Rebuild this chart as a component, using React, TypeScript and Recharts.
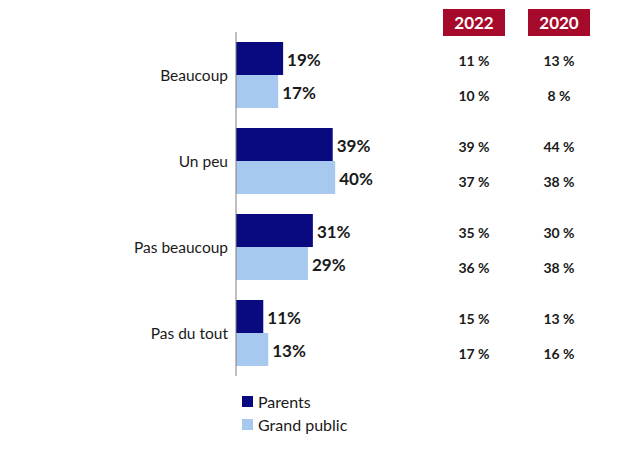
import React from "react";
import { BarChart, Bar, XAxis, YAxis, Legend, LabelList } from "recharts";

const categories = ["Beaucoup", "Un peu", "Pas beaucoup", "Pas du tout"];
const parents = [19, 39, 31, 11];
const grandPublic = [17, 40, 29, 13];
const parents2022 = ["11 %", "39 %", "35 %", "15 %"];
const parents2020 = ["13 %", "44 %", "30 %", "13 %"];
const public2022 = ["10 %", "37 %", "36 %", "17 %"];
const public2020 = ["8 %", "38 %", "38 %", "16 %"];
const years = ["2022", "2020"];
const seriesOrder = ["Parents", "Grand public"];

const data = categories.map((c, i) => ({
  name: c,
  parents: parents[i],
  grandPublic: grandPublic[i],
  p2022: parents2022[i],
  p2020: parents2020[i],
  g2022: public2022[i],
  g2020: public2020[i],
}));

const FONT = "Lato, 'Open Sans', sans-serif";
const COL_X = [474, 559];

const makeTableLabel = (colX: number, dy: number) => (props: any) => {
  const { y, height, value } = props;
  return (
    <text
      x={colX}
      y={y + height / 2 + dy}
      textAnchor="middle"
      dominantBaseline="central"
      fontFamily={FONT}
      fontWeight={700}
      fontSize={14}
      fill="#1a1a1a"
    >
      {value}
    </text>
  );
};

const valueLabel = (props: any) => {
  const { x, y, width, height, value } = props;
  return (
    <text
      x={x + width + 4}
      y={y + height / 2 + 1}
      textAnchor="start"
      dominantBaseline="central"
      fontFamily={FONT}
      fontWeight={700}
      fontSize={17}
      fill="#1a1a1a"
    >
      {value}%
    </text>
  );
};

const legendContent = (props: any) => {
  const items = [...(props.payload || [])].sort(
    (a: any, b: any) => seriesOrder.indexOf(a.value) - seriesOrder.indexOf(b.value)
  );
  return (
    <div style={{ fontFamily: FONT, fontSize: 16, color: "#1a1a1a" }}>
      {items.map((it: any) => (
        <div key={it.value} style={{ display: "flex", alignItems: "center", height: 23 }}>
          <span style={{ display: "inline-block", width: 11, height: 11, background: it.color, marginRight: 5 }} />
          <span>{it.value}</span>
        </div>
      ))}
    </div>
  );
};

export default function App() {
  return (
    <div style={{ position: "absolute", left: 0, top: 0, width: 624, height: 468, background: "#fff" }}>
      <BarChart
        width={624}
        height={468}
        data={data}
        layout="vertical"
        margin={{ top: 32, right: 140, bottom: 92, left: 0 }}
        barCategoryGap={10}
        barGap={0}
      >
        <XAxis type="number" domain={[0, 100]} hide />
        <YAxis
          type="category"
          dataKey="name"
          width={236}
          axisLine={{ stroke: "#7f7f7f", strokeWidth: 1 }}
          tickLine={false}
          tickMargin={2}
          tick={{ fontFamily: FONT, fontSize: 15.5, fill: "#1a1a1a" }}
        />
        <Legend
          layout="vertical"
          verticalAlign="middle"
          align="center"
          content={legendContent}
          wrapperStyle={{ left: 242, top: 390, width: 200 }}
        />
        <Bar dataKey="parents" name="Parents" fill="#0a0a80" isAnimationActive={false}>
          <LabelList dataKey="parents" content={valueLabel} />
          <LabelList dataKey="p2022" content={makeTableLabel(COL_X[0], 2)} />
          <LabelList dataKey="p2020" content={makeTableLabel(COL_X[1], 2)} />
        </Bar>
        <Bar dataKey="grandPublic" name="Grand public" fill="#a8c9ef" isAnimationActive={false}>
          <LabelList dataKey="grandPublic" content={valueLabel} />
          <LabelList dataKey="g2022" content={makeTableLabel(COL_X[0], 4)} />
          <LabelList dataKey="g2020" content={makeTableLabel(COL_X[1], 4)} />
        </Bar>
      </BarChart>
      {years.map((yr, i) => (
        <div
          key={yr}
          style={{
            position: "absolute",
            left: COL_X[i] - 31,
            top: 9,
            width: 62,
            height: 27,
            background: "#a50a2a",
            color: "#fff",
            fontFamily: FONT,
            fontWeight: 700,
            fontSize: 17,
            display: "flex",
            alignItems: "center",
            justifyContent: "center",
          }}
        >
          {yr}
        </div>
      ))}
    </div>
  );
}
